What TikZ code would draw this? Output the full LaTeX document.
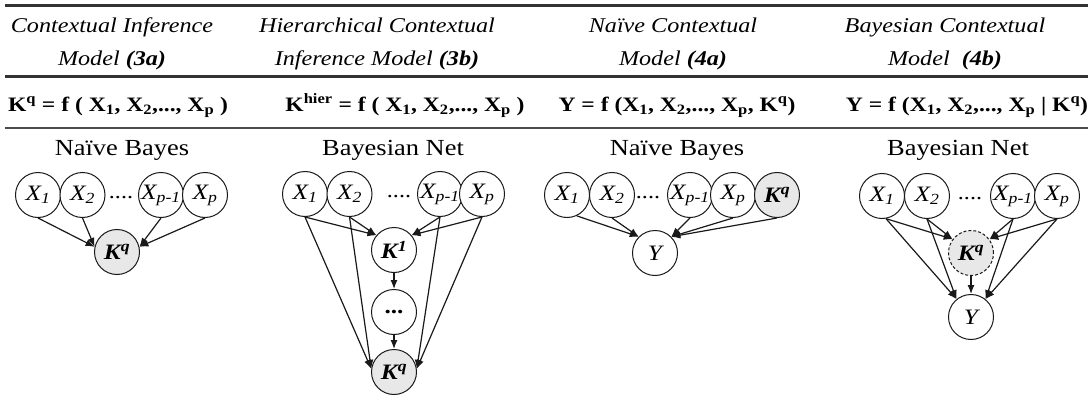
\documentclass[tikz,border=0pt]{standalone}
\usepackage{fontspec}
\setmainfont{Liberation Serif}[FakeStretch=1.15]
\usetikzlibrary{arrows.meta}
\newcommand{\xv}[1]{X\textsubscript{#1}}
\newcommand{\kq}{\textbf{K\textsuperscript{q}}}
\begin{document}
\begin{tikzpicture}[x=1pt,y=-1pt,
  rv/.style={circle, draw=black!90, line width=1pt, minimum size=45pt, inner sep=0pt, fill=white,
    font=\fontsize{22}{26}\selectfont\itshape},
  obs/.style={rv, fill=black!9},
  hid/.style={rv, fill=black!9, dash pattern=on 3pt off 2pt},
  dotsnode/.style={inner sep=0pt, font=\fontsize{21}{24}\selectfont},
  arr/.style={-{Latex[length=9pt,width=7pt]}, line width=1.2pt, draw=black!90},
  head/.style={anchor=base, inner sep=0pt, font=\fontsize{21}{25}\selectfont\itshape},
  form/.style={anchor=base, inner sep=0pt, font=\fontsize{20.5}{24}\selectfont\bfseries},
  sublabel/.style={anchor=base, inner sep=0pt, font=\fontsize{23}{27}\selectfont},
  thickrule/.style={line width=3pt, draw=black!80},
  thinrule/.style={line width=1.6pt, draw=black!70},
]
\useasboundingbox (0,0) rectangle (1091,401);
% rules
\draw[thickrule] (5,6) -- (1088,6);
\draw[thickrule] (5,77) -- (1088,77);
\draw[thinrule] (5,128) -- (1088,128);
% headers
\node[head] (h1a) at (112,33) {Contextual Inference};
\node[head] (h1b) at (112,66) {Model \textbf{(3a)}};
\node[head] (h2a) at (377,33) {Hierarchical Contextual};
\node[head] (h2b) at (377,66) {Inference Model \textbf{(3b)}};
\node[head] (h3a) at (673,33) {Naïve Contextual};
\node[head] (h3b) at (673,66) {Model \textbf{(4a)}};
\node[head] (h4a) at (945,33) {Bayesian Contextual};
\node[head] (h4b) at (945,66) {Model~ \textbf{(4b)}};
% formulas
\node[form] (f1) at (118,111) {K\textsuperscript{q} = f ( X\textsubscript{1}, X\textsubscript{2},..., X\textsubscript{p} )};
\node[form] (f2) at (405,111) {K\textsuperscript{hier} = f ( X\textsubscript{1}, X\textsubscript{2},..., X\textsubscript{p} )};
\node[form] (f3) at (677,111) {Y = f (X\textsubscript{1}, X\textsubscript{2},..., X\textsubscript{p}, K\textsuperscript{q})};
\node[form] (f4) at (967,111) {Y = f (X\textsubscript{1}, X\textsubscript{2},..., X\textsubscript{p} | K\textsuperscript{q})};
% sub labels
\node[sublabel] (s1) at (122,155) {Naïve Bayes};
\node[sublabel] (s2) at (393,155) {Bayesian Net};
\node[sublabel] (s3) at (677,155) {Naïve Bayes};
\node[sublabel] (s4) at (958,155) {Bayesian Net};

% ---- column 1
\node[rv] (a1) at (38,195) {\xv{1}};
\node[rv] (a2) at (82.5,195) {\xv{2}};
\node[dotsnode] (ad) at (121,198) {....};
\node[rv] (a3) at (161,195) {\xv{p-1}};
\node[rv] (a4) at (205,195) {\xv{p}};
\node[obs] (ak) at (117,252) {\kq};
\draw[arr] (a1.south) -- (ak.167);
\draw[arr] (a2.south) -- (ak.167);
\draw[arr] (a3.south) -- (ak.13);
\draw[arr] (a4.south) -- (ak.13);

% ---- column 2
\node[rv] (b1) at (305,194) {\xv{1}};
\node[rv] (b2) at (349.5,194) {\xv{2}};
\node[dotsnode] (bd) at (399,197) {....};
\node[rv] (b3) at (440,194) {\xv{p-1}};
\node[rv] (b4) at (482,194) {\xv{p}};
\node[rv] (bk1) at (394,250) {\textbf{K\textsuperscript{1}}};
\node[rv] (bm) at (394,312) {\textbf{\upshape...}};
\node[obs] (bk) at (394,372) {\kq};
\draw[arr] (b1.south) -- (bk1.140);
\draw[arr] (b2.south) -- (bk1.140);
\draw[arr] (b3.south) -- (bk1.40);
\draw[arr] (b4.south) -- (bk1.40);
\draw[arr] (b1.south) -- (bk.172);
\draw[arr] (b2.south) -- (bk.172);
\draw[arr] (b3.south) -- (bk.8);
\draw[arr] (b4.south) -- (bk.8);
\draw[arr] (bk1.south) -- (bm.north);
\draw[arr] (bm.south) -- (bk.north);

% ---- column 3
\node[rv] (c1) at (567,195) {\xv{1}};
\node[rv] (c2) at (612,195) {\xv{2}};
\node[dotsnode] (cd) at (648,198) {....};
\node[rv] (c3) at (690,195) {\xv{p-1}};
\node[rv] (c4) at (733,195) {\xv{p}};
\node[obs] (ck) at (777,195) {\kq};
\node[rv] (cy) at (655,253) {Y};
\draw[arr] (c1.-65) -- (cy.135);
\draw[arr] (c2.south) -- (cy.135);
\draw[arr] (c3.south) -- (cy.45);
\draw[arr] (c4.south) -- (cy.45);
\draw[arr] (ck.south) -- (cy.45);

% ---- column 4
\node[rv] (d1) at (882,196) {\xv{1}};
\node[rv] (d2) at (927,196) {\xv{2}};
\node[dotsnode] (dd) at (970,199) {....};
\node[rv] (d3) at (1013,196) {\xv{p-1}};
\node[rv] (d4) at (1057,196) {\xv{p}};
\node[hid] (dk) at (971,253) {\kq};
\node[rv] (dy) at (971,317) {Y};
\draw[arr] (d1.-80) -- (dk.143);
\draw[arr] (d2.south) -- (dk.143);
\draw[arr] (d3.south) -- (dk.37);
\draw[arr] (d4.south) -- (dk.37);
\draw[arr] (d1.-80) -- (dy.129);
\draw[arr] (d2.south) -- (dy.129);
\draw[arr] (d3.south) -- (dy.51);
\draw[arr] (d4.south) -- (dy.51);
\draw[arr] (dk.south) -- (dy.north);
\end{tikzpicture}
\end{document}
